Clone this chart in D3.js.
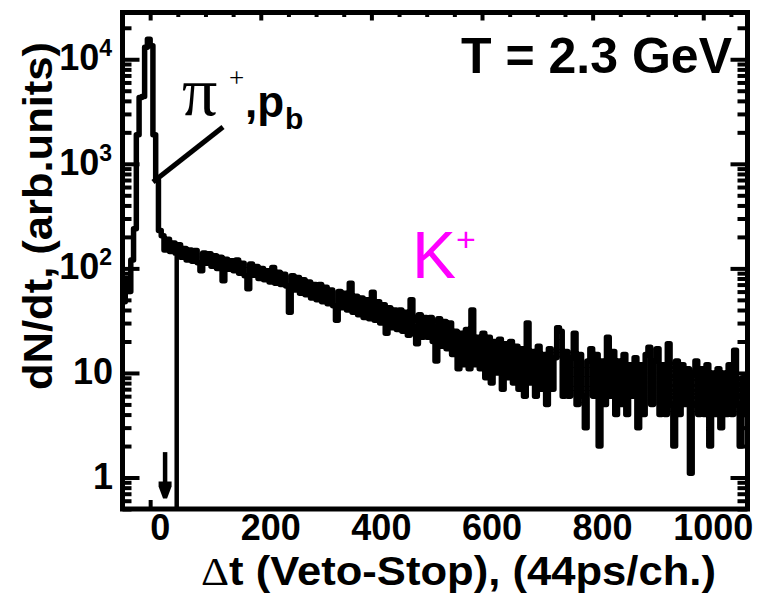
<!DOCTYPE html>
<html>
<head>
<meta charset="utf-8">
<script src="https://cdn.jsdelivr.net/npm/d3@7"></script>
<style>
  body { margin: 0; background: #fff; }
  svg { display: block; }
  text { font-family: "Liberation Sans", Arial, sans-serif; }
</style>
</head>
<body>
<svg id="chart" width="758" height="595"></svg>
<script>
// Veto–Stop time difference spectrum, 5-channel bins starting at channel -50
const binStart = -50;
const binWidth = 5;
const counts = [
  48, 80, 60, 120, 240, 1900, 4300, 4400, 13000, 15500,
  13500, 1900, 700, 230, 205, 150, 190, 145, 175, 140,
  168, 128, 155, 120, 150, 117, 148, 113, 95, 140,
  112, 138, 105, 132, 100, 128, 76, 122, 98, 118,
  95, 120, 90, 112, 85, 64, 110, 86, 104, 80,
  100, 78, 95, 74, 102, 72, 92, 70, 88, 68,
  38, 85, 62, 82, 58, 78, 56, 74, 52, 70,
  50, 70, 48, 66, 46, 62, 44, 32, 60, 42,
  58, 40, 72, 38, 54, 36, 52, 34, 50, 33,
  59, 32, 48, 30, 45, 24, 42, 27, 40, 26,
  40, 25, 38, 23, 50, 24, 19, 36, 22, 34,
  22, 34, 20, 13, 33, 18, 31, 17, 30, 15,
  25, 11, 24, 12, 26, 11, 40, 12, 22, 11,
  24, 9, 22, 8, 20, 10, 21, 7, 19, 9,
  20, 8, 18, 7, 17, 6, 30, 8, 16, 6,
  18, 7, 15, 5, 17, 7, 14, 27, 25, 6,
  16, 6, 14, 24, 5, 15, 6, 3, 13, 17,
  6, 15, 2, 13, 5, 22, 6, 16, 4, 13,
  5, 15, 4, 12, 6, 14, 3, 12, 4, 15,
  17.6, 5, 13, 17, 4, 12, 4, 19, 5, 2,
  13, 4, 12, 5, 11, 1.1, 10, 13, 4, 11,
  4, 12, 2, 10, 4, 11, 3, 10, 4, 12,
  4, 16.5, 5, 2, 9, 4
];

// Axis ticks and labels
const xTickValues = [0, 200, 400, 600, 800, 1000];
const xMinorStep = 50;
const yTickValues = [1, 10, 100, 1000, 10000];
const yTickBase = ["1", "10", "10", "10", "10"];
const yTickExp  = ["", "", "2", "3", "4"];

// Markers: cut line and arrow (channel, counts)
const cutChannel = 48, cutTop = 150;
const arrowChannel = 27, arrowFrom = 1.75, arrowTo = 0.63;

const xDomain = [-50, 1080];
const yDomain = [0.5, 2.8e4];

const margin = { left: 122.5, right: 747.5, top: 12.5, bottom: 509 };

const svg = d3.select("#chart");

const x = d3.scaleLinear().domain(xDomain).range([margin.left, margin.right]);
const y = d3.scaleLog().domain(yDomain).range([margin.bottom, margin.top]);

// Clip for the histogram
svg.append("defs").append("clipPath").attr("id", "plotClip")
  .append("rect")
  .attr("x", margin.left).attr("y", margin.top)
  .attr("width", margin.right - margin.left)
  .attr("height", margin.bottom - margin.top);

// Histogram as a step line
const pts = counts.map((c, i) => [binStart + i * binWidth, c]);
pts.push([binStart + counts.length * binWidth, counts[counts.length - 1]]);

const line = d3.line()
  .x(d => x(d[0]))
  .y(d => y(d[1]))
  .curve(d3.curveStepAfter);

svg.append("path")
  .datum(pts)
  .attr("d", line)
  .attr("clip-path", "url(#plotClip)")
  .attr("fill", "none")
  .attr("stroke", "#000")
  .attr("stroke-width", 5.5)
  .attr("stroke-linejoin", "round");

// Cut line
svg.append("line")
  .attr("x1", x(cutChannel)).attr("x2", x(cutChannel))
  .attr("y1", y(cutTop)).attr("y2", margin.bottom)
  .attr("stroke", "#000").attr("stroke-width", 4.5);

// Arrow
const ax = x(arrowChannel), ay0 = y(arrowFrom), ay1 = y(arrowTo);
svg.append("line")
  .attr("x1", ax).attr("x2", ax)
  .attr("y1", ay0).attr("y2", ay1 - 12)
  .attr("stroke", "#000").attr("stroke-width", 4.5);
svg.append("path")
  .attr("d", `M${ax - 6.5},${ay1 - 17} L${ax + 6.5},${ay1 - 17} L${ax + 6.5},${ay1 - 12} L${ax + 2},${ay1} L${ax - 2},${ay1} L${ax - 6.5},${ay1 - 12} Z`)
  .attr("fill", "#000");

// Minor tick values for the log axis
const yMinor = [];
for (let e = -1; e <= 4; e++) {
  for (let k = 2; k <= 9; k++) {
    const v = k * Math.pow(10, e);
    if (v >= yDomain[0] && v <= yDomain[1]) yMinor.push(v);
  }
}
const xMinor = d3.range(0, xDomain[1] + 1, xMinorStep).filter(v => !xTickValues.includes(v));

function styleAxis(g) {
  g.select(".domain").remove();
  g.selectAll(".tick line").attr("stroke", "#000").attr("stroke-width", 4);
  g.selectAll(".tick text").remove();
}

// Left and right ticks (pointing inwards)
svg.append("g").attr("transform", `translate(${margin.left},0)`)
  .call(d3.axisLeft(y).tickValues(yTickValues).tickSize(-17)).call(styleAxis);
svg.append("g").attr("transform", `translate(${margin.left},0)`)
  .call(d3.axisLeft(y).tickValues(yMinor).tickSize(-9)).call(styleAxis);
svg.append("g").attr("transform", `translate(${margin.right},0)`)
  .call(d3.axisRight(y).tickValues(yTickValues).tickSize(-17)).call(styleAxis);
svg.append("g").attr("transform", `translate(${margin.right},0)`)
  .call(d3.axisRight(y).tickValues(yMinor).tickSize(-10)).call(styleAxis);

// Top ticks
svg.append("g").attr("transform", `translate(0,${margin.top})`)
  .call(d3.axisTop(x).tickValues(xTickValues).tickSize(-8)).call(styleAxis);
svg.append("g").attr("transform", `translate(0,${margin.top})`)
  .call(d3.axisTop(x).tickValues(xMinor).tickSize(-4.5)).call(styleAxis);
// Bottom tick at zero
svg.append("g").attr("transform", `translate(0,${margin.bottom})`)
  .call(d3.axisBottom(x).tickValues([0]).tickSize(-9)).call(styleAxis);

// Frame
svg.append("rect")
  .attr("x", margin.left).attr("y", margin.top)
  .attr("width", margin.right - margin.left)
  .attr("height", margin.bottom - margin.top)
  .attr("fill", "none").attr("stroke", "#000").attr("stroke-width", 5);

// X tick labels
svg.append("g").selectAll("text")
  .data(xTickValues).join("text")
  .attr("x", d => x(d) + 10)
  .attr("y", 540)
  .attr("text-anchor", "middle")
  .attr("font-size", 36).attr("font-weight", "bold")
  .text(d => d);

// Y tick labels with exponents
const yl = svg.append("g").selectAll("text")
  .data(yTickValues).join("text")
  .attr("x", (d, i) => yTickExp[i] ? 112 : 113)
  .attr("y", d => y(d) + 11)
  .attr("text-anchor", "end")
  .attr("font-size", 36).attr("font-weight", "bold");
yl.append("tspan").text((d, i) => yTickBase[i]);
yl.filter((d, i) => yTickExp[i] !== "")
  .append("tspan")
  .attr("dy", -14).attr("font-size", 23)
  .text(d => yTickExp[yTickValues.indexOf(d)]);

// Axis titles
const xt = svg.append("text")
  .attr("x", 458.5).attr("y", 585)
  .attr("text-anchor", "middle")
  .attr("font-size", 40).attr("font-weight", "bold")
  .attr("textLength", 515).attr("lengthAdjust", "spacingAndGlyphs");
xt.append("tspan").attr("font-family", "'Liberation Serif', serif").attr("font-weight", "normal").text("Δ");
xt.append("tspan").text("t (Veto-Stop), (44ps/ch.)");

svg.append("text")
  .attr("transform", "translate(52,216) rotate(-90)")
  .attr("text-anchor", "middle")
  .attr("font-size", 40).attr("font-weight", "bold")
  .attr("textLength", 348).attr("lengthAdjust", "spacingAndGlyphs")
  .text("dN/dt, (arb.units)");

// Beam energy
svg.append("text")
  .attr("x", 732).attr("y", 73)
  .attr("text-anchor", "end")
  .attr("font-size", 50).attr("font-weight", "bold")
  .text("T = 2.3 GeV");

// Prompt peak label: π⁺,p_b as one text with positioned parts
const pl = svg.append("text");
pl.append("tspan").attr("x", 182).attr("y", 115)
  .attr("font-family", "'Liberation Serif', serif").attr("font-size", 70).text("π");
pl.append("tspan").attr("x", 229).attr("y", 87)
  .attr("font-family", "'Liberation Serif', serif").attr("font-size", 27).text("+");
pl.append("tspan").attr("x", 245).attr("y", 117)
  .attr("font-size", 44).attr("font-weight", "bold").text(",p");
pl.append("tspan").attr("x", 285).attr("y", 129)
  .attr("font-size", 30).attr("font-weight", "bold").text("b");

svg.append("line")
  .attr("x1", 153).attr("y1", 182).attr("x2", 223).attr("y2", 127)
  .attr("stroke", "#000").attr("stroke-width", 5);

// Kaon label
const kl = svg.append("text").attr("x", 412).attr("y", 278).attr("fill", "#ff00ff");
kl.append("tspan").attr("font-size", 66).text("K");
kl.append("tspan").attr("font-size", 34).attr("dy", -27).text("+");
</script>
</body>
</html>
